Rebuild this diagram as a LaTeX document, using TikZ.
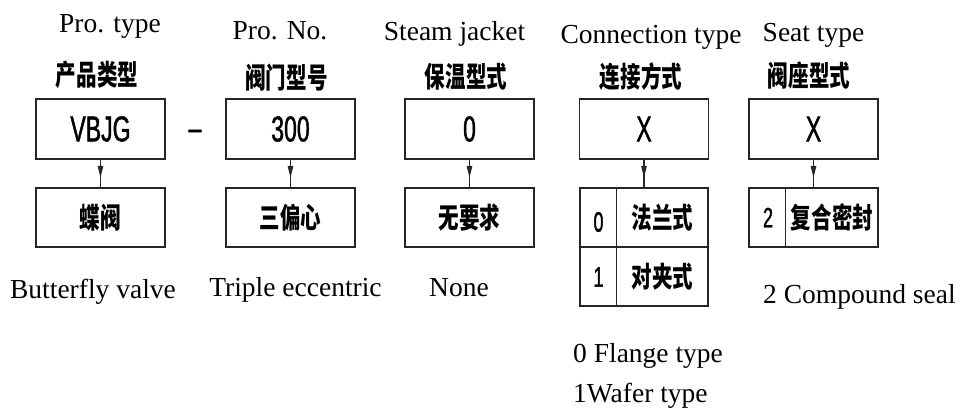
\documentclass[tikz,border=0pt]{standalone}
\usepackage{fontspec}
\setmainfont{Liberation Serif}
\newfontfamily\cjk[FakeStretch=0.72]{Noto Sans CJK SC}
\newfontfamily\cond[FakeStretch=0.64,FakeBold=1.2]{Liberation Sans}
\usetikzlibrary{arrows.meta,decorations.markings}
\begin{document}
\begin{tikzpicture}[x=1pt,y=-1pt,
  box/.style={draw=black!85,line width=1.3pt,minimum width=129pt,minimum height=60pt,inner sep=0pt},
  en/.style={font=\fontsize{27.5}{30}\selectfont,inner sep=0pt,anchor=base},
  zh/.style={font=\cjk\bfseries\fontsize{28.5}{30}\selectfont,inner sep=0pt},
  code/.style={font=\cond\fontsize{36}{38}\selectfont,inner sep=0pt},
  dig/.style={font=\cond\fontsize{28}{30}\selectfont,inner sep=0pt},
  divline/.style={draw=black!85,line width=1.3pt},
  flow/.style={draw=black!85,line width=1.3pt,postaction={decorate},
    decoration={markings,mark=at position 0.66 with {\arrow{Triangle[length=12pt,width=5.5pt]}}}}
]
\useasboundingbox (0,0) rectangle (961,414);

% English headers
\node[en] (e1) at (110,33) {Pro. type};
\node[en] (e2) at (280,39.5) {Pro. No.};
\node[en] (e3) at (454.5,40.5) {Steam jacket};
\node[en] (e4) at (651,44) {Connection type};
\node[en] (e5) at (813.5,41.5) {Seat type};

% Chinese headers
\node[zh] (h1) at (97,75) {产品类型};
\node[zh] (h2) at (286.5,77.5) {阀门型号};
\node[zh] (h3) at (466,77) {保温型式};
\node[zh] (h4) at (641,76.5) {连接方式};
\node[zh] (h5) at (809,76) {阀座型式};

% top code boxes
\node[box,code] (t1) at (100.5,129) {VBJG};
\node[code] (dash) at (195,135) {–};
\node[box,code] (t2) at (290.5,129) {300};
\node[box,code] (t3) at (469.5,129) {0};
\node[box,code] (t4) at (644,129) {X};
\node[box,code] (t5) at (813.5,129) {X};

% bottom boxes
\node[box,minimum height=59pt,zh] (b1) at (100.5,217.5) {蝶阀};
\node[box,minimum height=59pt,zh] (b2) at (290.5,217.5) {三偏心};
\node[box,minimum height=59pt,zh] (b3) at (469.5,217.5) {无要求};

% connection table
\node[box,minimum width=128pt,minimum height=118pt] (ct) at (644,247) {};
\draw[divline] (ct.west) -- (ct.east);
\draw[divline] ([xshift=37pt]ct.north west) -- ([xshift=37pt]ct.south west);
\node[dig] (c0) at (598.5,222) {0};
\node[zh] (c0t) at (662.5,217.5) {法兰式};
\node[dig] (c1) at (598.5,277) {1};
\node[zh] (c1t) at (662.5,276.5) {对夹式};

% seat table
\node[box,minimum height=59pt] (st) at (813.5,217.5) {};
\draw[divline] ([xshift=37pt]st.north west) -- ([xshift=37pt]st.south west);
\node[dig] (s2) at (768,217.5) {2};
\node[zh] (s2t) at (832,217.5) {复合密封};

% arrows
\draw[flow] (t1) -- (b1);
\draw[flow] (t2) -- (b2);
\draw[flow] (t3) -- (b3);
\draw[flow] (t4) -- (ct);
\draw[flow] (t5) -- (st);

% English descriptions
\node[en] (d1) at (93,298) {Butterfly valve};
\node[en] (d2) at (295.5,296) {Triple eccentric};
\node[en,anchor=base west] (d3) at (429,296) {None};
\node[en,anchor=base west] (d5) at (763,303) {2 Compound seal};
\node[en,anchor=base west] (d4a) at (573,362) {0 Flange type};
\node[en,anchor=base west] (d4b) at (573,402) {1Wafer type};
\end{tikzpicture}
\end{document}
